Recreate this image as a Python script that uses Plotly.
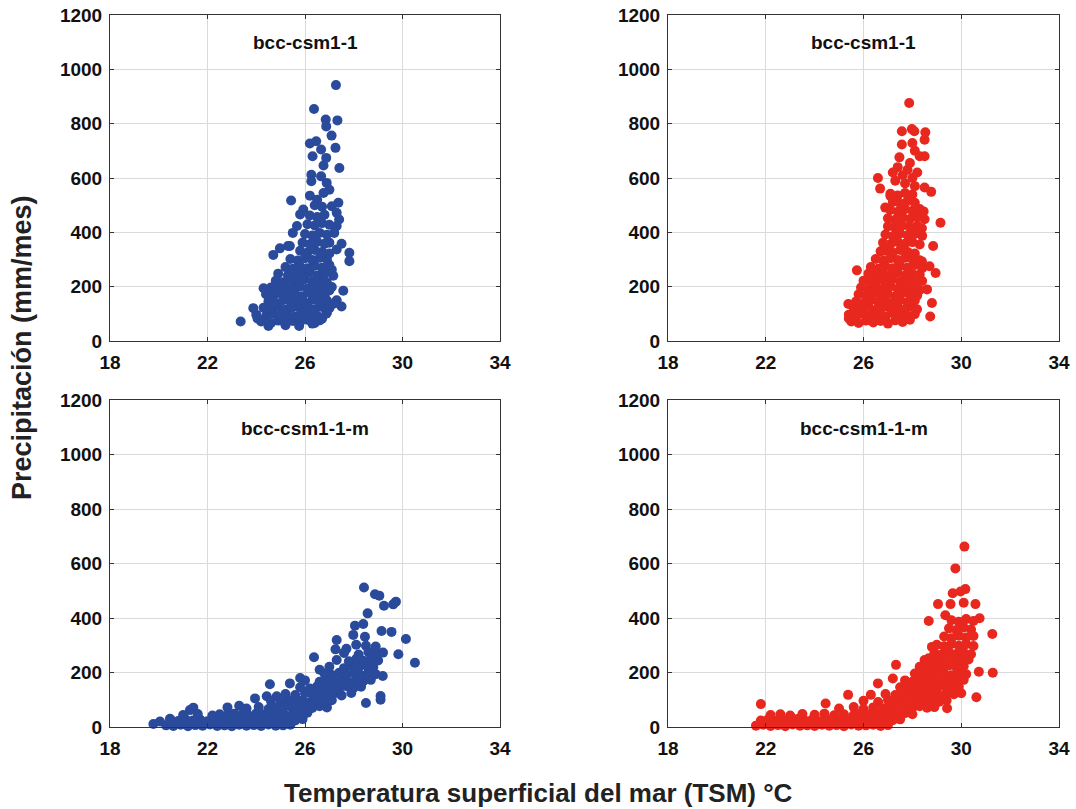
import plotly.graph_objects as go

# ---------------- data (TSM °C, precipitación mm/mes) ----------------
# Panel A: bcc-csm1-1 (blue, top-left)
pts_a = [(27.27,942),(26.37,854),(26.85,815),(27.33,812),(26.87,790),(27.09,756),(26.20,727),(26.46,735),
         (26.66,705),(27.25,711),(26.31,680),(26.87,674),(26.76,646),(27.41,637),(26.26,612),(26.66,606),
         (26.26,588),(25.43,517),(27.37,509),(27.82,325),(27.82,294),(27.50,358),(27.57,185),(27.50,127),
         (23.36,72),(23.88,121),(24.30,194),(24.70,317),(24.97,341),(25.38,350),(26.89,582),(27.00,557),
         (26.76,545),(26.20,535),(26.50,520),(27.10,496),(27.30,472),(27.40,447),(25.80,466),(25.93,484),
         (25.67,423),(25.50,398),(25.30,350),(27.30,423),(27.20,398),(27.00,362),(27.30,337),(27.16,240),
         (27.10,199),(27.30,150),(26.87,100),(26.60,76),(26.30,64),(25.76,55),(25.20,58),(24.50,55),(24.05,83),
         (24.2,72),(24.6,66),(24.9,75),(25.2,68),(25.5,74),(25.8,70),(26.1,78),(26.4,66),(26.7,82),
         (24.0,97),(24.4,92),(24.7,100),(25.0,94),(25.3,98),(25.6,90),(25.9,102),(26.2,96),(26.5,93),(26.9,104),
         (24.3,122),(24.6,118),(24.9,126),(25.2,115),(25.5,124),(25.8,120),(26.1,128),(26.4,117),(26.7,125),(27.0,121),
         (24.5,146),(24.8,140),(25.1,150),(25.4,144),(25.7,148),(26.0,141),(26.3,152),(26.6,143),(26.9,149),(27.2,138),
         (24.4,172),(24.7,166),(25.0,175),(25.3,169),(25.6,173),(25.9,165),(26.2,178),(26.5,170),(26.8,168),
         (24.6,197),(24.9,190),(25.2,199),(25.5,193),(25.8,201),(26.1,192),(26.4,198),(26.7,194),(27.0,186),
         (24.8,222),(25.1,216),(25.4,225),(25.7,219),(26.0,227),(26.3,218),(26.6,224),(26.9,215),
         (24.9,248),(25.3,242),(25.6,250),(25.9,244),(26.2,252),(26.5,241),(26.8,247),(27.1,262),
         (25.2,272),(25.5,266),(25.8,275),(26.1,268),(26.4,277),(26.7,270),(27.0,280),
         (25.4,302),(25.7,296),(26.0,305),(26.3,298),(26.6,306),(26.9,300),
         (25.8,332),(26.1,326),(26.4,335),(26.7,328),(27.0,322),
         (25.9,362),(26.2,356),(26.5,365),(26.8,358),
         (26.0,394),(26.3,388),(26.6,398),(26.9,391),
         (26.1,430),(26.4,425),(26.7,434),(27.0,428),
         (26.2,462),(26.5,456),(26.8,465),
         (26.4,500),(26.7,494)]

# Panel B: bcc-csm1-1 (red, top-right)
pts_b = [(27.87,876),(27.57,772),(27.98,780),(28.08,772),(28.53,768),(28.50,741),(27.57,723),(28.00,729),
         (27.47,676),(28.30,680),(28.50,680),(26.59,600),(26.68,561),(28.50,565),(28.77,549),(29.15,435),
         (28.85,350),(28.95,250),(28.70,275),(28.60,190),(28.80,140),(28.73,90),(28.19,117),(25.73,260),
         (25.38,136),(25.40,83),(26.70,330),(27.20,620),(27.40,640),(27.60,610),(27.80,630),(28.00,600),
         (28.20,620),(27.30,590),(27.70,580),(28.10,570),(27.90,655),(28.10,700),(26.89,491),(27.10,534),
         (28.46,477),(28.39,415),(28.39,293),(28.10,171),
         (25.5,72),(25.8,66),(26.1,75),(26.4,68),(26.7,74),(27.0,64),(27.3,76),(27.6,70),(27.9,78),
         (25.4,97),(25.7,92),(26.0,100),(26.3,94),(26.6,98),(26.9,90),(27.2,102),(27.5,96),(27.8,93),(28.1,99),
         (25.6,122),(25.9,118),(26.2,126),(26.5,115),(26.8,124),(27.1,120),(27.4,128),(27.7,117),(28.0,125),
         (25.7,146),(26.0,140),(26.3,150),(26.6,144),(26.9,148),(27.2,141),(27.5,152),(27.8,143),(28.1,149),
         (25.8,172),(26.1,166),(26.4,175),(26.7,169),(27.0,173),(27.3,165),(27.6,178),(27.9,170),(28.2,168),
         (25.9,197),(26.2,190),(26.5,199),(26.8,193),(27.1,201),(27.4,192),(27.7,198),(28.0,194),(28.3,188),
         (26.0,222),(26.3,216),(26.6,225),(26.9,219),(27.2,227),(27.5,218),(27.8,224),(28.1,215),(28.4,221),
         (26.2,248),(26.5,242),(26.8,250),(27.1,244),(27.4,252),(27.7,241),(28.0,247),(28.3,245),
         (26.3,272),(26.6,266),(26.9,275),(27.2,268),(27.5,277),(27.8,270),(28.1,280),(28.4,268),
         (26.5,302),(26.8,296),(27.1,305),(27.4,298),(27.7,306),(28.0,300),(28.3,297),
         (26.9,332),(27.2,326),(27.5,335),(27.8,328),(28.1,322),
         (26.8,362),(27.1,356),(27.4,365),(27.7,358),(28.0,364),(28.3,355),
         (26.9,392),(27.2,386),(27.5,396),(27.8,389),(28.1,394),(28.4,387),
         (27.0,422),(27.3,416),(27.6,425),(27.9,419),(28.2,424),
         (27.0,452),(27.3,446),(27.6,455),(27.9,449),(28.2,456),(28.5,448),
         (27.1,482),(27.4,476),(27.7,485),(28.0,479),(28.3,486),
         (27.2,512),(27.5,506),(27.8,515),(28.1,509),
         (27.1,542),(27.4,536),(27.7,545),(28.0,539)]

# Panel C: bcc-csm1-1-m (blue, bottom-left)
pts_c = [(28.42,512),(28.87,487),(29.05,482),(29.24,445),(29.62,450),(29.73,460),(28.57,417),(28.05,372),
         (28.39,378),(27.98,338),(29.14,352),(29.55,349),(30.14,323),(29.83,267),(30.51,236),(27.30,319),
         (26.37,256),(27.25,285),(27.70,287),(28.46,331),(28.90,295),(29.19,187),(29.10,114),(29.10,100),
         (28.50,88),(24.56,157),(25.38,160),(25.80,180),(26.60,210),(19.78,11),(20.05,20),(20.46,30),
         (21.28,62),(21.42,71),(22.82,72),(23.30,78),(23.95,105),(24.43,113),(24.84,113),
         (20.3,6),(20.6,4),(20.9,8),(21.2,3),(21.5,7),(21.8,5),(22.1,9),(22.4,4),(22.7,6),(23.0,3),
         (23.3,8),(23.6,5),(23.9,7),(24.2,4),(24.5,9),(24.8,5),(25.1,6),(25.4,8),
         (20.5,25),(20.8,22),(21.1,28),(21.4,24),(21.7,27),(22.0,21),(22.3,26),(22.6,23),(22.9,29),(23.2,22),
         (23.5,27),(23.8,24),(24.1,30),(24.4,22),(24.7,28),(25.0,25),(25.3,31),(25.6,24),(25.9,29),
         (21.0,44),(21.6,48),(22.2,42),(22.5,47),(22.8,43),(23.1,49),(23.4,45),(23.7,41),(24.0,50),(24.3,46),
         (24.6,44),(24.9,51),(25.2,43),(25.5,48),(25.8,46),(26.1,52),
         (23.6,68),(24.1,73),(24.5,66),(24.8,72),(25.1,69),(25.4,75),(25.7,67),(26.0,74),(26.3,70),(26.6,76),(26.9,72),
         (24.6,96),(25.0,92),(25.3,99),(25.6,94),(25.9,97),(26.2,91),(26.5,100),(26.8,95),(27.1,98),
         (25.2,121),(25.6,117),(26.0,124),(26.3,119),(26.6,126),(26.9,118),(27.2,123),(27.5,116),(27.9,125),
         (25.8,146),(26.2,141),(26.5,149),(26.8,143),(27.1,147),(27.4,140),(27.7,150),(28.0,144),(28.3,148),
         (26.0,171),(26.6,166),(26.9,174),(27.2,168),(27.5,172),(27.8,165),(28.1,175),(28.4,169),(28.7,173),
         (26.8,196),(27.1,191),(27.4,199),(27.7,193),(28.0,197),(28.3,190),(28.6,200),(28.9,194),
         (27.0,221),(27.6,216),(27.9,224),(28.2,218),(28.5,226),(28.8,219),
         (27.3,246),(27.8,241),(28.1,249),(28.4,243),(28.7,250),(29.0,244),
         (27.6,272),(28.2,266),(28.6,275),(28.9,268),(29.2,273),
         (28.1,302),(28.5,298)]

# Panel D: bcc-csm1-1-m (red, bottom-right)
pts_d = [(30.13,662),(29.76,582),(29.65,491),(29.97,497),(30.17,506),(29.05,451),(29.56,451),(30.10,456),
         (30.58,451),(28.67,389),(29.35,410),(30.75,399),(31.27,341),(30.72,203),(31.29,199),(30.62,109),
         (29.42,69),(27.33,228),(26.59,160),(27.20,178),(26.30,118),(25.37,118),(24.45,86),(21.80,84),
         (28.67,252),(28.80,294),
         (21.6,5),(21.9,8),(22.2,4),(22.5,7),(22.8,3),(23.1,9),(23.4,5),(23.7,6),(24.0,4),(24.3,8),
         (24.6,5),(24.9,7),(25.2,3),(25.5,9),(25.8,5),(26.1,6),(26.4,8),(26.7,4),(27.0,7),
         (21.8,24),(22.1,28),(22.4,22),(22.7,26),(23.0,23),(23.3,29),(23.6,24),(23.9,27),(24.2,21),(24.5,26),
         (24.8,23),(25.1,28),(25.4,25),(25.7,30),(26.0,24),(26.3,27),(26.6,22),(26.9,29),(27.2,25),(27.5,28),
         (22.2,44),(22.6,47),(23.0,42),(23.5,48),(24.0,45),(24.4,49),(24.8,43),(25.2,47),(25.6,44),(25.9,50),
         (26.2,46),(26.5,52),(26.8,45),(27.1,49),(27.4,43),(27.7,51),(28.0,47),
         (25.0,68),(25.6,73),(26.0,66),(26.4,72),(26.8,69),(27.1,75),(27.4,67),(27.7,74),(28.0,70),(28.3,76),(28.6,71),(28.9,73),
         (26.0,96),(26.6,92),(27.0,99),(27.3,94),(27.6,97),(27.9,91),(28.2,100),(28.5,95),(28.8,98),(29.1,93),(29.4,97),
         (26.9,121),(27.3,117),(27.6,124),(27.9,119),(28.2,126),(28.5,118),(28.8,123),(29.1,116),(29.4,125),(29.7,120),(30.0,124),
         (27.5,146),(27.8,141),(28.1,149),(28.4,143),(28.7,147),(29.0,140),(29.3,150),(29.6,144),(29.9,148),
         (27.7,171),(28.0,166),(28.3,174),(28.6,168),(28.9,172),(29.2,165),(29.5,175),(29.8,169),(30.1,173),
         (28.1,196),(28.4,191),(28.7,199),(29.0,193),(29.3,197),(29.6,190),(29.9,200),(30.2,194),
         (28.3,221),(28.6,216),(28.9,224),(29.2,218),(29.5,226),(29.8,219),(30.1,223),
         (28.5,246),(28.8,241),(29.1,249),(29.4,243),(29.7,250),(30.0,244),(30.3,248),
         (28.9,272),(29.2,266),(29.5,275),(29.8,268),(30.1,273),(30.4,267),
         (29.0,302),(29.3,296),(29.6,305),(29.9,298),(30.2,304),(30.5,297),
         (29.3,332),(29.6,326),(29.9,335),(30.2,328),(30.5,334),
         (29.5,362),(29.8,356),(30.1,365),(30.4,358),
         (29.6,392),(29.9,386),(30.2,396),(30.5,389)]

panel_titles = ["bcc-csm1-1", "bcc-csm1-1", "bcc-csm1-1-m", "bcc-csm1-1-m"]
x_ticks = [18, 22, 26, 30, 34]
y_ticks = [0, 200, 400, 600, 800, 1000, 1200]
x_title = "Temperatura superficial del mar (TSM) °C"
y_title = "Precipitación (mm/mes)"

BLUE = "#2A4A9C"
RED = "#E8281F"
FONT = "Liberation Sans, Arial, Helvetica, sans-serif"

W, H = 1076, 809
# pixel boxes: (left, right, top, bottom)
boxes = [(110, 500, 15, 341), (668, 1059, 15, 341),
         (110, 500, 400, 727), (668, 1059, 400, 727)]
datasets = [(pts_a, BLUE), (pts_b, RED), (pts_c, BLUE), (pts_d, RED)]

fig = go.Figure()
layout = dict(width=W, height=H, margin=dict(l=0, r=0, t=0, b=0, autoexpand=False),
              paper_bgcolor="white", plot_bgcolor="white", showlegend=False,
              font=dict(family=FONT, color="#111111"))
annotations = []
for i, ((pts, col), (l, r, t, b), title) in enumerate(zip(datasets, boxes, panel_titles)):
    n = "" if i == 0 else str(i + 1)
    fig.add_trace(go.Scatter(x=[p[0] for p in pts], y=[p[1] for p in pts], mode="markers",
                             marker=dict(color=col, size=10, line=dict(width=0)),
                             xaxis="x" + n, yaxis="y" + n, hoverinfo="skip", cliponaxis=False))
    common = dict(showline=True, mirror="allticks", linecolor="#333333", linewidth=1,
                  ticks="inside", ticklen=4, tickcolor="#333333", automargin=False,
                  showgrid=True, gridcolor="#DADADA", gridwidth=1, zeroline=False,
                  tickfont=dict(family=FONT, size=19, color="#111111", weight="bold"))
    layout["xaxis" + n] = dict(common, domain=[l / W, r / W], range=[18, 34],
                               tickvals=x_ticks, anchor="y" + n, ticklabelstandoff=4)
    layout["yaxis" + n] = dict(common, domain=[1 - b / H, 1 - t / H], range=[0, 1200],
                               tickvals=y_ticks, anchor="x" + n, ticklabelstandoff=3)
    annotations.append(dict(text=title, xref="paper", yref="paper",
                            x=((l + r) / 2) / W, y=1 - (t + 28) / H, showarrow=False,
                            xanchor="center", yanchor="middle",
                            font=dict(family=FONT, size=19, color="#111111", weight="bold")))

annotations.append(dict(text=x_title, xref="paper", yref="paper", x=538 / W, y=1 - 793 / H,
                        showarrow=False, xanchor="center", yanchor="middle",
                        font=dict(family=FONT, size=26, color="#222222", weight="bold")))
annotations.append(dict(text=y_title, xref="paper", yref="paper", x=22 / W, y=1 - 348 / H,
                        showarrow=False, xanchor="center", yanchor="middle", textangle=-90,
                        font=dict(family=FONT, size=27, color="#222222", weight="bold")))
layout["annotations"] = annotations
fig.update_layout(**layout)
fig.write_html("out.html")
